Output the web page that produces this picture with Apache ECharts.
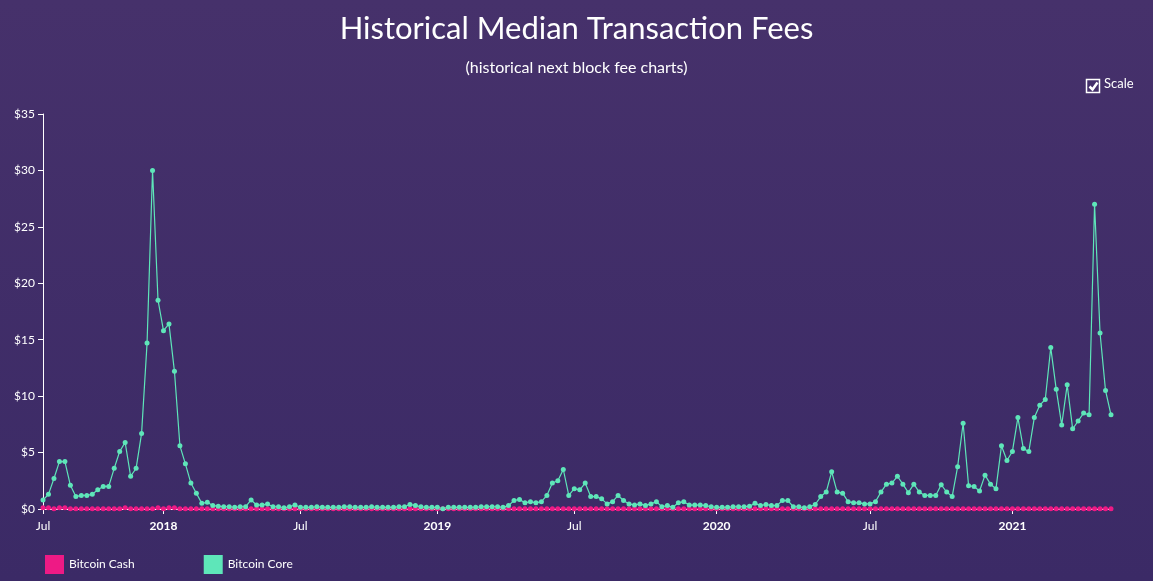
<!DOCTYPE html>
<html>
<head>
<meta charset="utf-8">
<script src="https://cdn.jsdelivr.net/npm/echarts@6/dist/echarts.min.js"></script>
<style>
html,body{margin:0;padding:0;}
#chart{width:1153px;height:581px;}
</style>
</head>
<body>
<div id="chart"></div>
<script>
// weekly median fees in USD
var coreFees = [
  0.8,1.3,2.7,4.2,4.2,2.1,1.1,1.2,1.2,1.3,1.7,2.0,2.0,3.6,5.1,5.9,2.9,3.6,6.7,14.7,
  30.0,18.5,15.8,16.4,12.2,5.6,4.0,2.3,1.4,0.5,0.6,0.3,0.25,0.2,0.2,0.15,0.2,0.2,0.8,0.35,
  0.35,0.45,0.2,0.2,0.1,0.2,0.35,0.15,0.15,0.15,0.2,0.15,0.15,0.15,0.15,0.2,0.2,0.15,0.15,0.15,
  0.2,
  0.15,0.15,0.15,0.15,0.2,0.2,0.4,0.3,0.2,0.15,0.15,0.15,0.03,0.15,0.15,0.15,0.15,0.15,0.15,0.2,
  0.2,0.2,0.2,0.15,0.3,0.75,0.85,0.55,0.65,0.55,0.65,1.2,2.3,2.5,3.5,1.2,1.8,1.7,2.3,1.1,
  1.1,0.9,0.45,0.65,1.2,0.75,0.45,0.35,0.45,0.3,0.45,0.65,0.2,0.3,0.15,0.55,0.65,0.35,0.35,0.35,
  0.3,0.2,0.15,0.15,0.15,0.2,0.2,0.2,0.25,
  0.5,0.3,0.4,0.3,0.3,0.75,0.75,0.2,0.2,0.1,0.2,0.4,1.1,1.5,3.3,1.5,1.4,0.65,0.55,0.55,
  0.45,0.45,0.65,1.5,2.2,2.3,2.9,2.2,1.45,2.2,1.5,1.2,1.2,1.2,2.15,1.5,1.1,3.75,7.6,2.05,
  2.0,1.6,3.0,2.2,1.8,5.6,4.3,5.1,8.1,5.35,5.1,8.1,9.2,9.7,14.3,10.6,7.45,11.0,7.1,7.8,
  8.5,8.35,27.0,15.6,10.5,8.35
];
var cashFees = [
  0.1,0.1,0.02,0.1,0.1,0.02,0.02,0.02,0.02,0.02,0.02,0.02,0.02,0.02,0.02,0.1,0.02,0.02,0.02,0.02,
  0.02,0.1,0.02,0.1,0.1,0.02,0.02,0.02,0.02,0.02,0.02,0.02,0.02,0.02,0.02,0.02,0.02,0.02,0.02,0.02,
  0.02,0.02,0.02,0.02,0.02,0.02,0.02,0.02,0.02,0.02,0.02,0.02,0.02,0.02,0.02,0.02,0.02,0.02,0.02,0.02,
  0.02,0.02,0.02,0.02,0.02,0.02,0.02,0.02,0.02,0.02,0.02,0.02,0.02,0.02,0.02,0.02,0.02,0.02,0.02,0.02,
  0.02,0.02,0.02,0.02,0.02,0.02,0.02,0.02,0.02,0.02,0.02,0.02,0.02,0.02,0.02,0.02,0.02,0.02,0.02,0.02,
  0.02,0.02,0.02,0.02,0.02,0.02,0.02,0.02,0.02,0.02,0.02,0.02,0.02,0.02,0.02,0.02,0.02,0.02,0.02,0.02,
  0.02,0.02,0.02,0.02,0.02,0.02,0.02,0.02,0.02,0.02,0.02,0.02,0.02,0.02,0.02,0.02,0.02,0.02,0.02,0.02,
  0.02,0.02,0.02,0.02,0.02,0.02,0.02,0.02,0.02,0.02,0.02,0.02,0.02,0.02,0.02,0.02,0.02,0.02,0.02,0.02,
  0.02,0.02,0.02,0.02,0.02,0.02,0.02,0.02,0.02,0.02,0.02,0.02,0.02,0.02,0.02,0.02,0.02,0.02,0.02,0.02,
  0.02,0.02,0.02,0.02,0.02,0.02,0.02,0.02,0.02,0.02,0.02,0.02,0.02,0.02,0.02,0.02
];
// x tick labels by week index
var tickLabels = {0:'Jul',22:'2018',47:'Jul',72:'2019',97:'Jul',123:'2020',151:'Jul',177:'2021'};
var yearLabels = ['2018','2019','2020','2021'];

var weeks = [];
var start = Date.UTC(2017, 6, 2);
for (var i = 0; i < coreFees.length; i++) {
  var d = new Date(start + i * 7 * 86400000);
  weeks.push(d.toISOString().slice(0, 10));
}

var FONT = 'Lato';
var chart = echarts.init(document.getElementById('chart'));
chart.setOption({
  backgroundColor: new echarts.graphic.LinearGradient(0, 0, 0, 1, [
    {offset: 0, color: '#46316b'}, {offset: 1, color: '#3b2a66'}
  ]),
  animation: false,
  textStyle: {fontFamily: FONT},
  title: {
    text: 'Historical Median Transaction Fees',
    subtext: '(historical next block fee charts)',
    left: 'center', top: 8, itemGap: 16,
    textStyle: {color: '#fff', fontSize: 31, fontWeight: 'normal', fontFamily: FONT},
    subtextStyle: {color: '#fff', fontSize: 16, fontFamily: FONT}
  },
  legend: {
    left: 40, bottom: 2, itemWidth: 19, itemHeight: 19, itemGap: 69,
    icon: 'rect',
    textStyle: {color: '#fff', fontSize: 12},
    data: ['Bitcoin Cash', 'Bitcoin Core']
  },
  graphic: [
    {type: 'rect', left: 1084, top: 77, shape: {width: 13, height: 13},
     style: {fill: 'none', stroke: '#fff', lineWidth: 1.5}},
    {type: 'polyline', left: 1087, top: 80, shape: {points: [[0, 4], [3, 7], [8, 0]]},
     style: {fill: 'none', stroke: '#fff', lineWidth: 2.5}},
    {type: 'text', left: 1104, top: 77, style: {text: 'Scale', fill: '#fff', font: '13px ' + FONT}}
  ],
  grid: {left: 43, right: 42, top: 114, bottom: 72},
  xAxis: {
    type: 'category', data: weeks, boundaryGap: false,
    axisLine: {lineStyle: {color: '#fff'}},
    axisTick: {interval: function (i) { return tickLabels[i] !== undefined; }, lineStyle: {color: '#fff'}},
    axisLabel: {
      interval: function (i) { return tickLabels[i] !== undefined; },
      color: '#fff', fontSize: 12, margin: 11,
      formatter: function (v, i) {
        var t = tickLabels[i];
        return yearLabels.indexOf(t) >= 0 ? '{b|' + t + '}' : t;
      },
      rich: {b: {fontWeight: 'bold', color: '#fff', fontSize: 12}}
    },
    splitLine: {show: false}
  },
  yAxis: {
    type: 'value', min: 0, max: 35, interval: 5,
    axisLine: {show: true, lineStyle: {color: '#fff'}},
    axisTick: {show: true, lineStyle: {color: '#fff'}},
    axisLabel: {color: '#fff', fontSize: 12, formatter: '${value}'},
    splitLine: {show: false}
  },
  series: [
    {name: 'Bitcoin Cash', type: 'line', data: cashFees, color: '#ee1a85',
     symbol: 'circle', symbolSize: 5, showAllSymbol: true, lineStyle: {width: 1}},
    {name: 'Bitcoin Core', type: 'line', data: coreFees, color: '#5ee6b9',
     symbol: 'circle', symbolSize: 5, showAllSymbol: true, lineStyle: {width: 1.2}}
  ]
});
window.addEventListener('resize', function () { chart.resize(); });
</script>
</body>
</html>
